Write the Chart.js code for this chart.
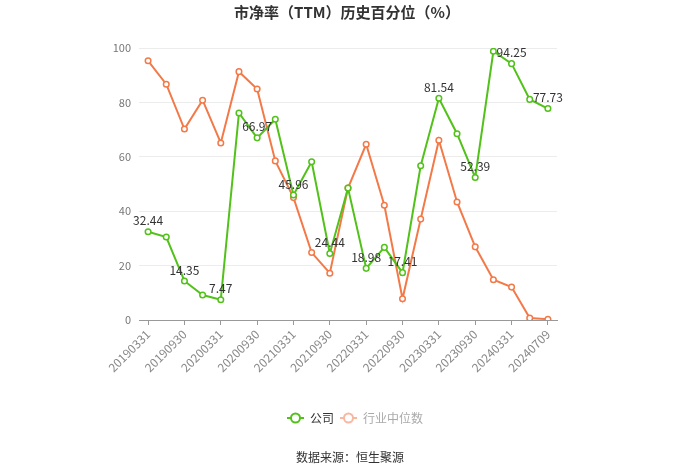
<!DOCTYPE html>
<html>
<head>
<meta charset="utf-8">
<script src="https://cdn.jsdelivr.net/npm/chart.js@4/dist/chart.umd.min.js"></script>
<style>
  html, body { margin: 0; padding: 0; background: #fff; }
  #wrap { width: 700px; height: 474px; position: relative; }
</style>
</head>
<body>
<div id="wrap"><canvas id="pbChart" width="700" height="474"></canvas></div>
<script>
// dados
var datas = ['20190331','20190630','20190930','20191231','20200331','20200630','20200930','20201231',
             '20210331','20210630','20210930','20211231','20220331','20220630','20220930','20221231',
             '20230331','20230630','20230930','20231231','20240331','20240630','20240709'];
var empresa = [32.44, 30.5, 14.35, 9.2, 7.47, 76.1, 66.97, 73.8, 45.96, 58.2, 24.44, 48.5,
               18.98, 26.7, 17.41, 56.7, 81.54, 68.5, 52.39, 98.8, 94.25, 81.1, 77.73];
var mediana = [95.3, 86.7, 70.2, 80.8, 65.1, 91.3, 84.9, 58.5, 45.0, 24.8, 17.2, 48.5,
               64.6, 42.2, 7.8, 37.1, 66.1, 43.4, 26.9, 14.8, 12.1, 0.7, 0.3];
var yTicks = [0, 20, 40, 60, 80, 100];
var legendas = ['公司', '行业中位数'];
var titulo = '市净率（TTM）历史百分位（%）';
var fonte = '数据来源：恒生聚源';

var verde = '#52c21a';
var laranja = '#f37a48';
var fontFamily = '"Noto Sans CJK SC", "Noto Sans", sans-serif';

// rótulos de valor acima dos pontos (índices pares)
var rotulosPlugin = {
    id: 'rotulos',
    afterDatasetsDraw: function(chart) {
        var ctx = chart.ctx;
        var meta = chart.getDatasetMeta(0);
        ctx.save();
        ctx.font = '12px ' + fontFamily;
        ctx.fillStyle = '#333';
        ctx.textAlign = 'center';
        ctx.textBaseline = 'middle';
        meta.data.forEach(function(pt, i) {
            if (i % 2 !== 0) return;
            ctx.fillText(empresa[i].toFixed(2), pt.x, pt.y - 11);
        });
        ctx.restore();
    }
};

// legenda e fonte desenhadas embaixo
var rodapePlugin = {
    id: 'rodape',
    afterDraw: function(chart) {
        var ctx = chart.ctx;
        ctx.save();
        ctx.font = '12px ' + fontFamily;
        ctx.textBaseline = 'middle';
        var y = 418;
        var itens = [
            { texto: legendas[0], cor: verde, corTexto: '#333', x: 287 },
            { texto: legendas[1], cor: '#f7b7a0', corTexto: '#aaa', x: 340 }
        ];
        itens.forEach(function(it) {
            ctx.strokeStyle = it.cor;
            ctx.lineWidth = 2;
            ctx.beginPath();
            ctx.moveTo(it.x, y);
            ctx.lineTo(it.x + 17, y);
            ctx.stroke();
            ctx.beginPath();
            ctx.arc(it.x + 8.5, y, 4.5, 0, Math.PI * 2);
            ctx.fillStyle = '#fff';
            ctx.fill();
            ctx.stroke();
            ctx.fillStyle = it.corTexto;
            ctx.textAlign = 'left';
            ctx.fillText(it.texto, it.x + 23, y);
        });
        ctx.fillStyle = '#333';
        ctx.textAlign = 'center';
        ctx.fillText(fonte, 350, 457);
        ctx.restore();
    }
};

var ctx = document.getElementById('pbChart').getContext('2d');
new Chart(ctx, {
    type: 'line',
    data: {
        labels: datas,
        datasets: [
            {
                label: legendas[0],
                data: empresa,
                borderColor: verde,
                backgroundColor: '#fff',
                borderWidth: 2,
                pointRadius: 2.8,
                pointBorderWidth: 1.5,
                pointBackgroundColor: '#fff',
                pointBorderColor: verde,
                tension: 0
            },
            {
                label: legendas[1],
                data: mediana,
                borderColor: laranja,
                backgroundColor: '#fff',
                borderWidth: 2,
                pointRadius: 2.8,
                pointBorderWidth: 1.5,
                pointBackgroundColor: '#fff',
                pointBorderColor: laranja,
                tension: 0
            }
        ]
    },
    options: {
        responsive: false,
        animation: false,
        layout: { padding: { top: 48, right: 143, bottom: 0, left: 0 } },
        plugins: {
            legend: { display: false },
            tooltip: { enabled: false },
            title: { display: false }
        },
        scales: {
            x: {
                offset: true,
                afterFit: function(s) { s.height = 154; },
                grid: {
                    drawOnChartArea: false,
                    drawTicks: true,
                    tickLength: 5,
                    color: function(c) { return c.index % 2 === 0 ? '#999' : 'rgba(0,0,0,0)'; }
                },
                border: { display: true, color: '#999', width: 1 },
                ticks: {
                    autoSkip: false,
                    minRotation: 45,
                    maxRotation: 45,
                    padding: 2,
                    color: '#888',
                    font: { size: 12, family: fontFamily },
                    callback: function(v, i) { return i % 2 === 0 ? datas[i] : ''; }
                }
            },
            y: {
                min: 0,
                max: 100,
                afterFit: function(s) { s.width = 139; },
                afterBuildTicks: function(s) { s.ticks = yTicks.map(function(v) { return { value: v }; }); },
                grid: { color: '#ececec', drawTicks: false },
                border: { display: false },
                ticks: {
                    padding: 8,
                    color: '#777',
                    font: { size: 11, family: fontFamily }
                }
            }
        }
    },
    plugins: [rotulosPlugin, rodapePlugin, {
        id: 'titulo',
        afterDraw: function(chart) {
            var c = chart.ctx;
            c.save();
            c.font = 'bold 15px ' + fontFamily;
            c.fillStyle = '#333';
            c.textAlign = 'center';
            c.textBaseline = 'middle';
            c.fillText(titulo, 347, 12);
            c.restore();
        }
    }]
});
</script>
</body>
</html>
